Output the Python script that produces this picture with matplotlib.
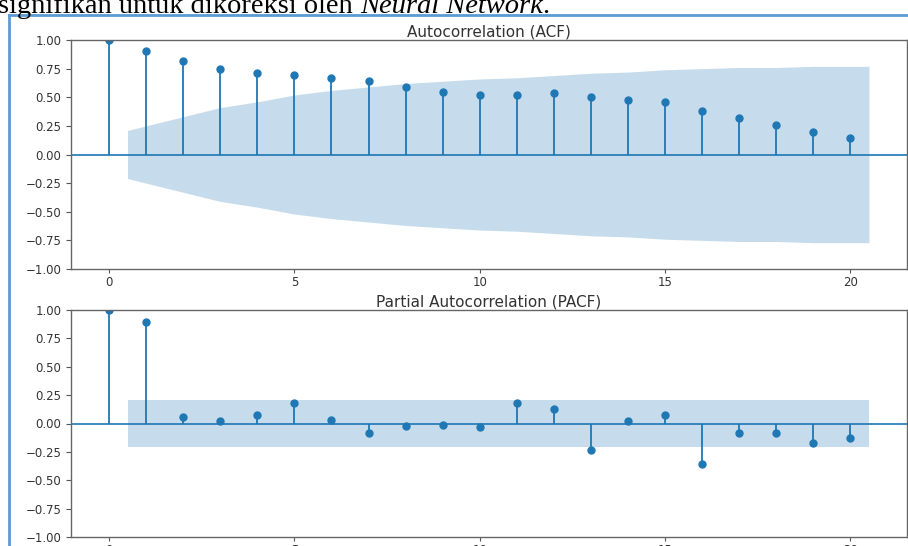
import matplotlib
matplotlib.use('Agg')
import matplotlib.pyplot as plt
from matplotlib.lines import Line2D

# lags 0..20
lags = list(range(21))

acf_vals = [1.00, 0.90, 0.82, 0.75, 0.71, 0.69, 0.67, 0.64, 0.59, 0.55, 0.52,
            0.52, 0.54, 0.50, 0.48, 0.46, 0.38, 0.32, 0.26, 0.20, 0.14]
# half width of the confidence band, lags 1..20
acf_band = [0.21, 0.33, 0.41, 0.46, 0.52, 0.56, 0.59, 0.62, 0.64, 0.66,
            0.67, 0.69, 0.71, 0.72, 0.74, 0.75, 0.76, 0.76, 0.77, 0.77]

pacf_vals = [1.00, 0.89, 0.06, 0.02, 0.075, 0.18, 0.035, -0.085, -0.02, -0.01, -0.03,
             0.18, 0.13, -0.23, 0.025, 0.075, -0.36, -0.08, -0.08, -0.175, -0.13]
pacf_band = [0.205] * 20

yticks = [-1.00, -0.75, -0.50, -0.25, 0.00, 0.25, 0.50, 0.75, 1.00]
xticks = [0, 5, 10, 15, 20]

W, H = 908, 546
fig = plt.figure(figsize=(W / 100, H / 100), dpi=100)


def px(l, t, r, b):
    # pixel box -> figure fraction [left, bottom, width, height]
    return [l / W, (H - b) / H, (r - l) / W, (b - t) / H]


def corr_plot(ax, vals, band, title):
    ax.vlines(lags, 0, vals, color='C0', lw=1.3)
    ax.axhline(0, color='C0', lw=1.2)
    ax.plot(lags, vals, 'o', color='C0', markersize=5)
    bx = [float(v) for v in lags[1:]]
    bx[0] -= 0.5
    bx[-1] += 0.5
    ax.fill_between(bx, [-b for b in band], band, color='C0', alpha=0.25, lw=0)
    ax.margins(x=0.05)
    ax.set_ylim(-1, 1)
    ax.set_yticks(yticks)
    ax.set_xticks(xticks)
    ax.set_title(title, fontsize=11, pad=2.5, color='#333333')
    ax.tick_params(axis='y', labelsize=8.5, colors='#555555', labelcolor='#333333')
    ax.tick_params(axis='x', labelsize=8.5, colors='#555555', labelcolor='#333333',
                   length=3, pad=2)
    for s in ax.spines.values():
        s.set_color('#666666')
        s.set_linewidth(1.0)


ax1 = fig.add_axes(px(71, 40, 907, 269))
corr_plot(ax1, acf_vals, acf_band, 'Autocorrelation (ACF)')

ax2 = fig.add_axes(px(71, 310, 907, 537))
corr_plot(ax2, pacf_vals, pacf_band, 'Partial Autocorrelation (PACF)')

# document text above the picture (cut off at the top)
t1 = fig.text(-2 / W, (H - 13) / H, 'signifikan untuk dikoreksi oleh ',
              family='Liberation Serif', fontsize=20.5, va='baseline')
r = fig.canvas.get_renderer()
x_end = t1.get_window_extent(r).x1
fig.text(x_end / W, (H - 13) / H, 'Neural Network', family='Liberation Serif',
         style='italic', fontsize=20.5, va='baseline')
t2 = fig.texts[-1]
x_end2 = t2.get_window_extent(r).x1
fig.text(x_end2 / W, (H - 13) / H, '.', family='Liberation Serif',
         fontsize=20.5, va='baseline')

# selection frame of the picture
fig.add_artist(Line2D([9 / W, 9 / W], [0, (H - 15) / H], color='#5b9bd5', lw=2))
fig.add_artist(Line2D([9 / W, 1], [(H - 15) / H, (H - 15) / H], color='#5b9bd5', lw=2))

plt.savefig('out.png', dpi=100)
